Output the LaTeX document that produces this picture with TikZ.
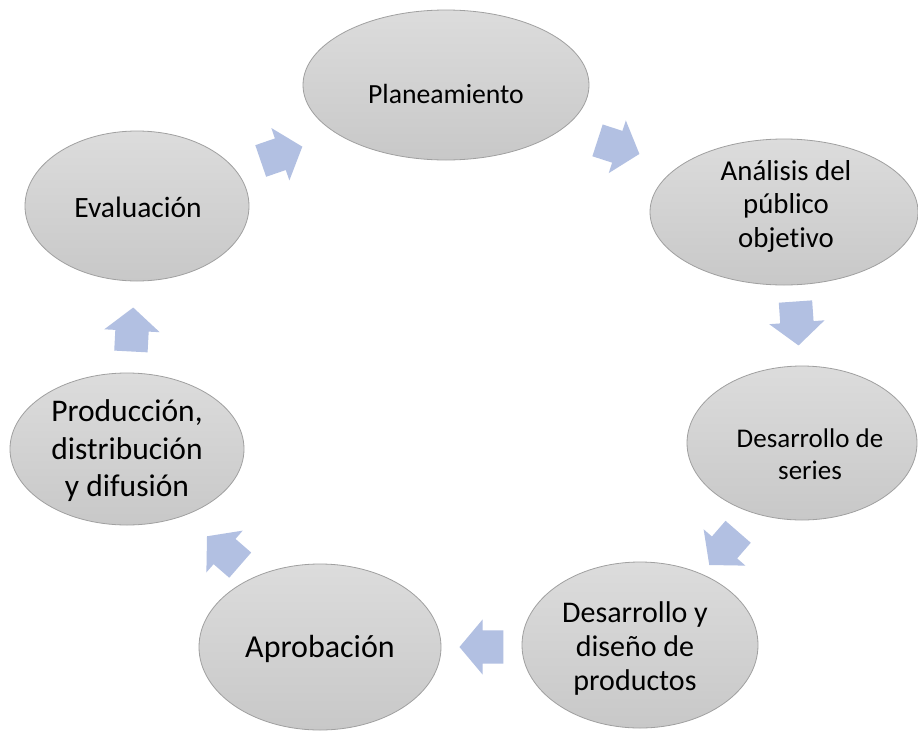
\documentclass[tikz,border=0pt]{standalone}
\usepackage{fontspec}
\setmainfont{Carlito}[Ligatures=NoCommon]
\usetikzlibrary{shapes.geometric,shapes.arrows}
\definecolor{arr}{RGB}{178,192,226}
\definecolor{edgegray}{RGB}{160,160,160}
\definecolor{gtop}{RGB}{220,220,220}
\definecolor{gbot}{RGB}{200,200,200}
\begin{document}
\begin{tikzpicture}[x=1pt,y=-1pt,
  stage/.style={ellipse, draw=edgegray, line width=0.8pt, top color=gtop, bottom color=gbot,
    inner sep=0pt},
  lbl/.style={inner sep=0pt, align=center, text=black},
  blk/.style={single arrow, fill=arr, draw=none, minimum height=44pt, minimum width=0pt,
    inner xsep=0pt, inner ysep=16.5pt, single arrow head extend=11pt,
    single arrow tip angle=100, rotate=#1}]
\fill[white] (0,0) rectangle (918,731);
\useasboundingbox (0,0) rectangle (918,731);

\node[stage, minimum width=286pt, minimum height=150pt] (plan) at (446,85) {};
\node[stage, minimum width=268pt, minimum height=146pt] (anal) at (784,212) {};
\node[stage, minimum width=230pt, minimum height=154pt] (ser) at (802,443) {};
\node[stage, minimum width=236pt, minimum height=166pt] (dis) at (640,645) {};
\node[stage, minimum width=242pt, minimum height=166pt] (apr) at (320,647) {};
\node[stage, minimum width=234pt, minimum height=152pt] (prod) at (127,449) {};
\node[stage, minimum width=224pt, minimum height=150pt] (eval) at (137,206) {};

\node[lbl, font=\fontsize{27.7}{34}\selectfont] (plant) at ([shift={(0,9)}]plan.center) {Planeamiento};
\node[lbl, font=\fontsize{28.8}{33.5}\selectfont] (analt) at ([shift={(2,-6)}]anal.center) {Análisis del\\público\\objetivo};
\node[lbl, font=\fontsize{27}{32}\selectfont] (sert) at ([shift={(8,11)}]ser.center) {Desarrollo de\\series};
\node[lbl, font=\fontsize{30}{34}\selectfont] (dist) at ([shift={(-5,3)}]dis.center) {Desarrollo y\\diseño de\\productos};
\node[lbl, font=\fontsize{32}{38}\selectfont] (aprt) at ([shift={(0,2)}]apr.center) {Aprobación};
\node[lbl, font=\fontsize{31.5}{37.5}\selectfont] (prodt) at ([shift={(0,2)}]prod.center) {Producción,\\distribución\\y difusión};
\node[lbl, font=\fontsize{29.5}{35}\selectfont] (evalt) at ([shift={(1,1)}]eval.center) {Evaluación};

\node[blk=19] (a1) at (274.9,156.1) {};
\node[blk=-18] (a2) at (611.8,145) {};
\node[blk=-86] (a3) at (796.5,316.5) {};
\node[blk=229] (a4) at (728.3,543.1) {};
\node[blk=180] (a5) at (488.5,647) {};
\node[blk=139] (a6) at (228.9,555.3) {};
\node[blk=87] (a7) at (131.7,336.5) {};
\end{tikzpicture}
\end{document}
